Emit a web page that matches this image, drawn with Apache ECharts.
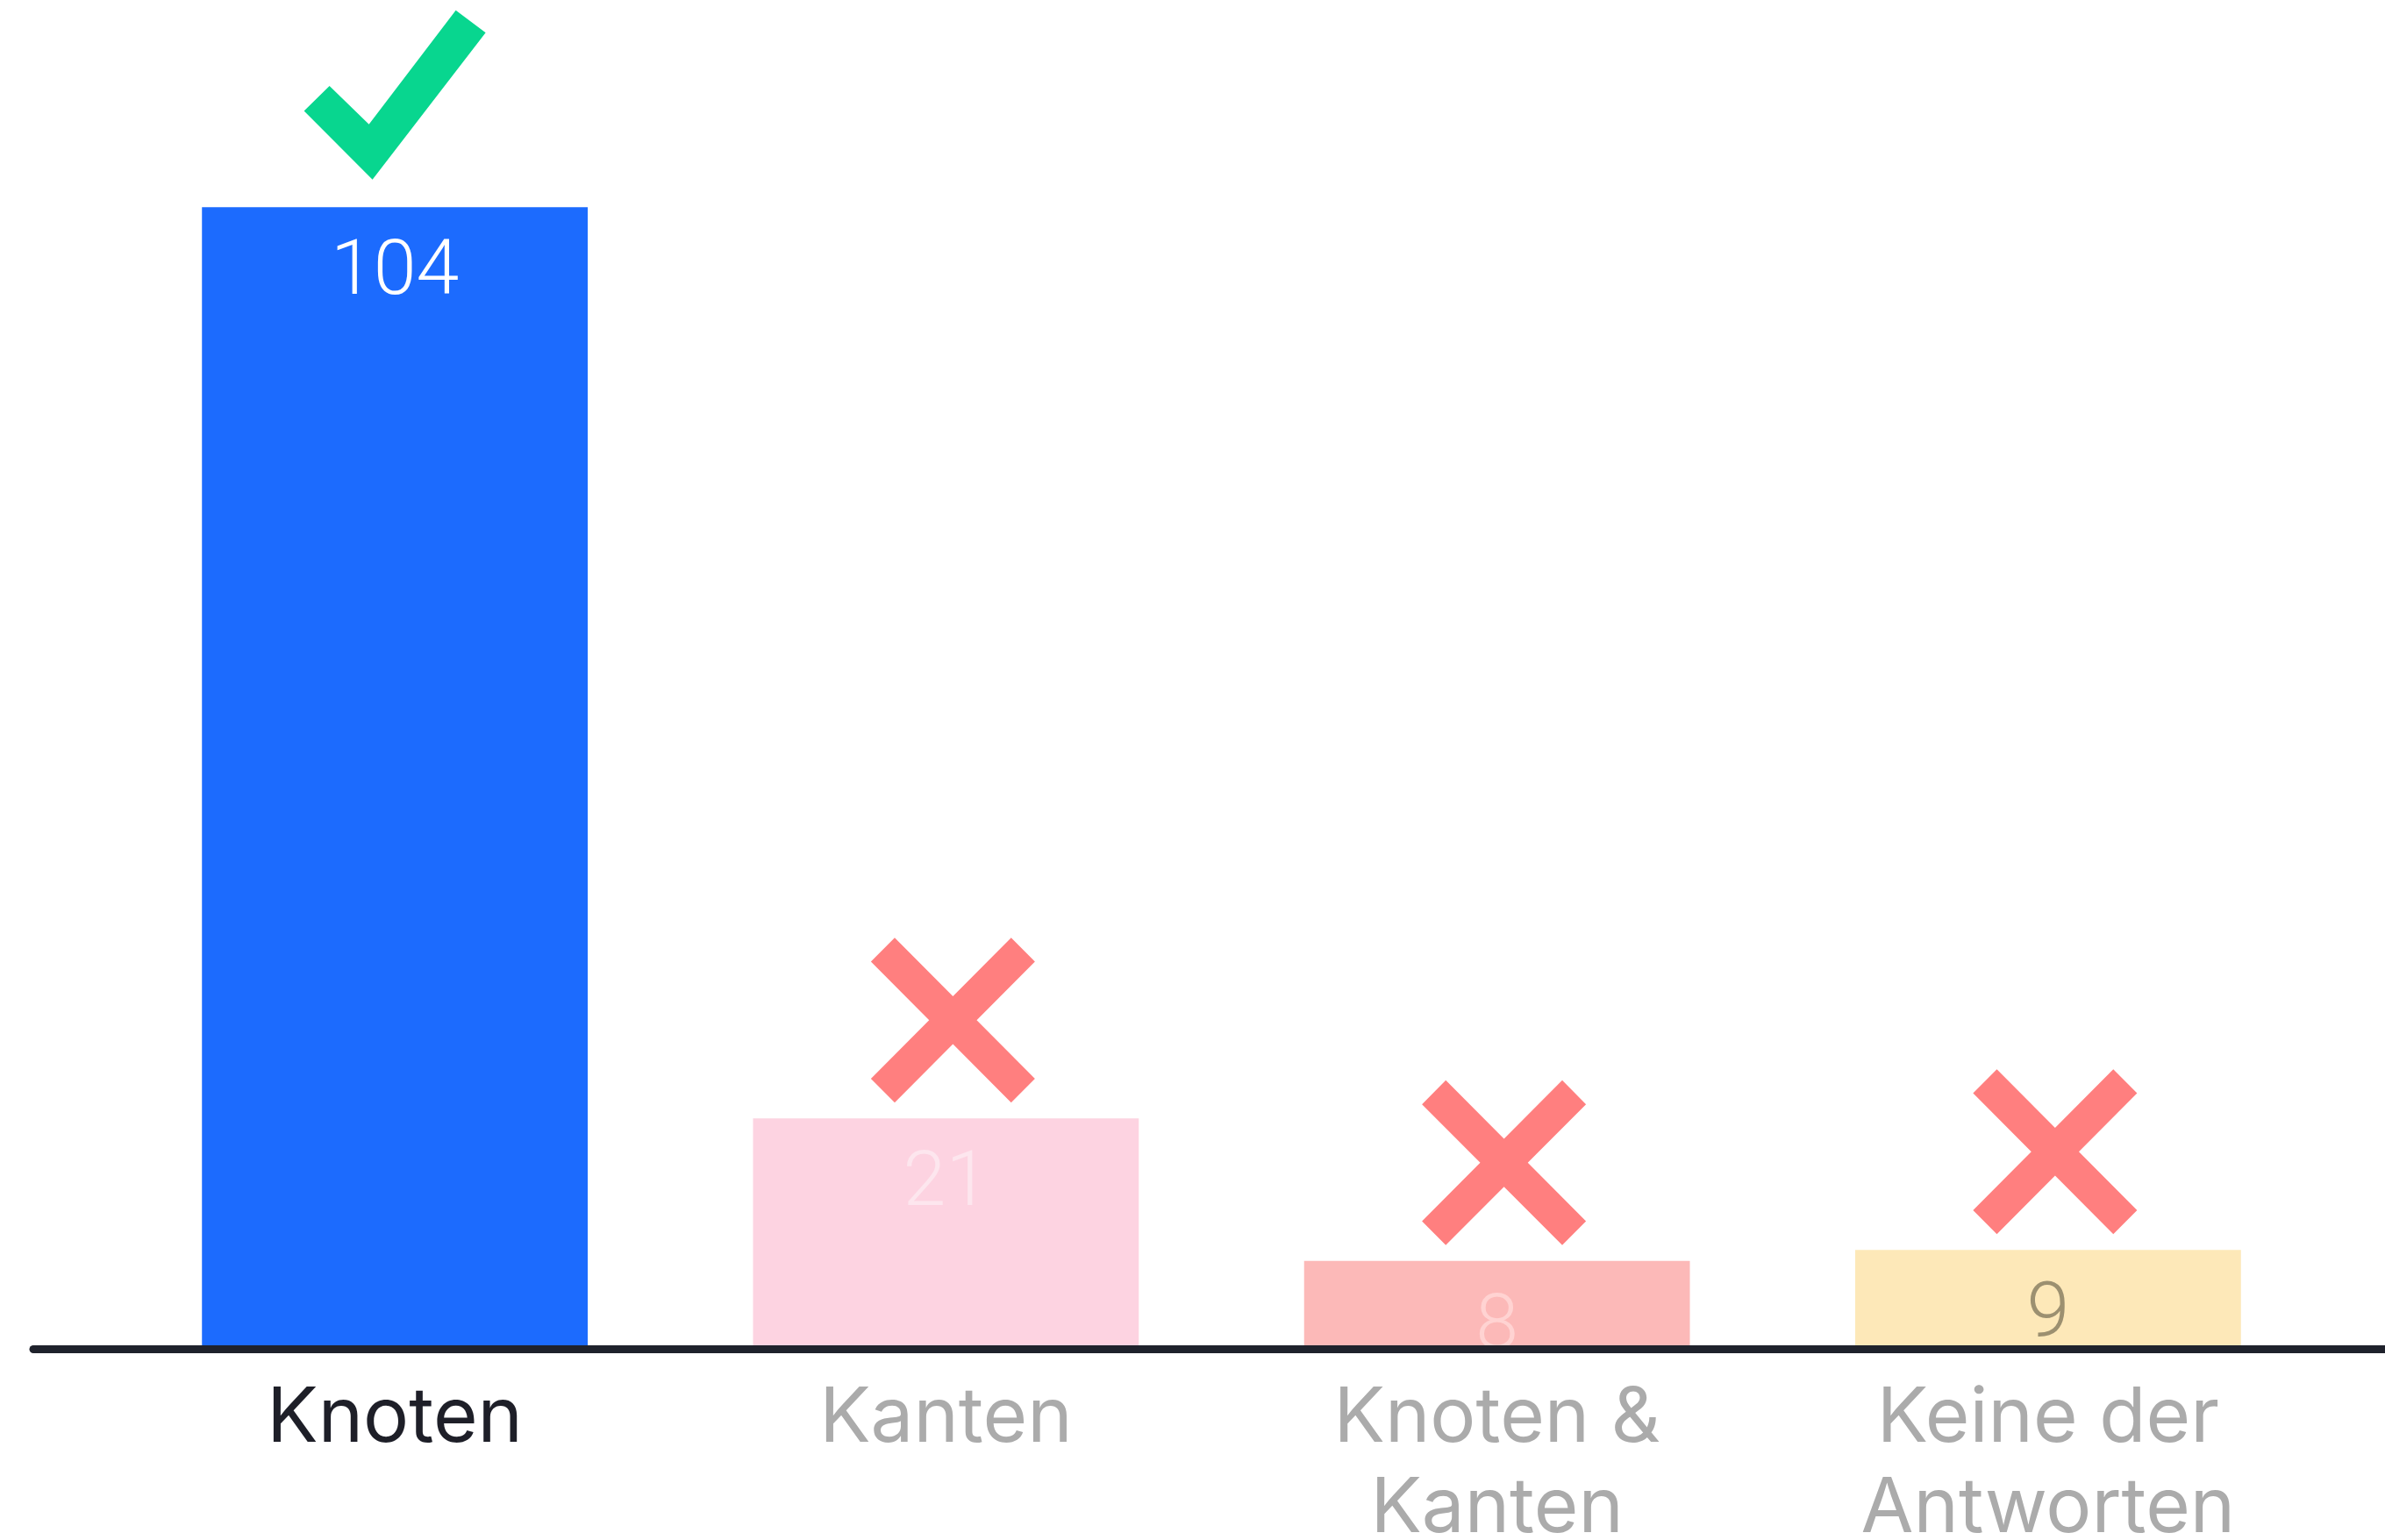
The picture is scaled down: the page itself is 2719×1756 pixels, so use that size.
<!DOCTYPE html>
<html>
<head>
<meta charset="utf-8">
<script src="https://cdn.jsdelivr.net/npm/echarts@6/dist/echarts.min.js"></script>
<style>
html,body{margin:0;padding:0;background:#fff;}
#chart{width:2719px;height:1756px;}
</style>
</head>
<body>
<div id="chart"></div>
<script>
const categories = ['Knoten', 'Kanten', 'Knoten &\nKanten', 'Keine der\nAntworten'];
const values = [104, 21, 8, 9];
const correct = [true, false, false, false];

const barColors = ['#1C6BFE', '#FDD3E1', '#FCB9B8', '#FDE8B8'];
const valueLabelColors = ['#FFFFFF', '#FDE6EE', '#FFD3D2', '#9C9070'];
const catLabelColors = ['#1E1F28', '#ABABAB', '#ABABAB', '#ABABAB'];

const CHECK = 'path://M0,113 L29,85 L74,128 L173,0 L207,25 L78,190 Z';
const CROSS = 'path://M0,14.5 L14.5,0 L50,35.5 L85.5,0 L100,14.5 L64.5,50 L100,85.5 L85.5,100 L50,64.5 L14.5,100 L0,85.5 L35.5,50 Z';

const chart = echarts.init(document.getElementById('chart'));
chart.setOption({
  animation: false,
  backgroundColor: '#ffffff',
  grid: [
    {left: 136, right: 70, top: 36, bottom: 218, containLabel: false, outerBoundsMode: 'none'},
    {left: 38, right: 0, top: 36, bottom: 218, containLabel: false, outerBoundsMode: 'none'}
  ],
  xAxis: [
    {
      type: 'category', gridIndex: 0, data: categories,
      axisLine: {show: false}, axisTick: {show: false},
      axisLabel: {
        interval: 0, margin: 28,
        fontFamily: 'Inter', fontSize: 87, lineHeight: 103,
        color: (v, i) => catLabelColors[i]
      }
    },
    {
      type: 'value', gridIndex: 1, min: 0, max: 1, z: 10,
      axisLine: {show: true, lineStyle: {color: '#1F222C', width: 9}},
      axisTick: {show: false}, axisLabel: {show: false}, splitLine: {show: false}
    }
  ],
  yAxis: [
    {type: 'value', gridIndex: 0, min: 0, max: 120, show: false},
    {type: 'value', gridIndex: 1, min: 0, max: 1, show: false}
  ],
  series: [
    {
      type: 'bar', xAxisIndex: 0, yAxisIndex: 0,
      barCategoryGap: '30%',
      data: values.map((v, i) => ({
        value: v,
        itemStyle: {color: barColors[i]},
        label: {color: valueLabelColors[i]}
      })),
      label: {
        show: true, position: 'insideTop', distance: 33,
        fontFamily: 'Roboto', fontWeight: 300, fontSize: 88
      }
    },
    {
      type: 'scatter', xAxisIndex: 0, yAxisIndex: 0, z: 5,
      data: values.map((v, i) => correct[i] ? {
        value: v, symbol: CHECK, symbolKeepAspect: false,
        symbolSize: [207, 193], symbolOffset: [0, -128],
        itemStyle: {color: '#08D68F', opacity: 1}
      } : {
        value: v, symbol: CROSS, symbolKeepAspect: false,
        symbolSize: [187, 188], symbolOffset: [8, -112],
        itemStyle: {color: '#FF7F7F', opacity: 1}
      })
    }
  ]
});
</script>
</body>
</html>
